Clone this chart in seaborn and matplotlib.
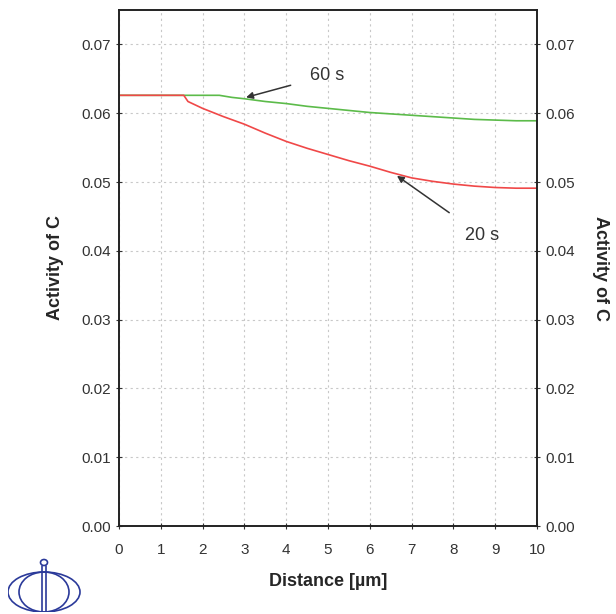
import matplotlib
matplotlib.use("Agg")
import matplotlib.pyplot as plt
import matplotlib.patches as mpatches
import seaborn as sns

# distance [um] and activity of C for each time
dist_20s = [0, 1.55, 1.65, 2, 2.5, 3, 3.5, 4, 4.5, 5, 5.5, 6, 6.5, 7, 7.5,
            8, 8.5, 9, 9.5, 10]
act_20s = [0.0626, 0.0626, 0.0617, 0.0607, 0.0595, 0.0584, 0.0571, 0.0559,
           0.0549, 0.0540, 0.0531, 0.0523, 0.0514, 0.0506, 0.0501, 0.0497,
           0.0494, 0.0492, 0.0491, 0.0491]
dist_60s = [0, 2.4, 2.7, 3, 3.5, 4, 4.5, 5, 5.5, 6, 6.5, 7, 7.5, 8, 8.5, 9,
            9.5, 10]
act_60s = [0.0626, 0.0626, 0.0623, 0.0621, 0.0617, 0.0614, 0.0610, 0.0607,
           0.0604, 0.0601, 0.0599, 0.0597, 0.0595, 0.0593, 0.0591, 0.0590,
           0.0589, 0.0589]

x_ticks = list(range(0, 11))
y_ticks = [0.00, 0.01, 0.02, 0.03, 0.04, 0.05, 0.06, 0.07]

sns.set_style("ticks")
plt.rcParams['font.family'] = ['Liberation Sans', 'DejaVu Sans']

fig = plt.figure(figsize=(6.16, 6.14), dpi=100)
ax = fig.add_axes([119/616, 1-526/614, (537-119)/616, (526-10)/614])

sns.lineplot(x=dist_60s, y=act_60s, ax=ax, color="#5cbb4a", lw=1.2, sort=False)
sns.lineplot(x=dist_20s, y=act_20s, ax=ax, color="#f04848", lw=1.2, sort=False)

ax.set_xlim(0, 10)
ax.set_ylim(0, 0.075)
ax.set_xticks(x_ticks)
ax.set_yticks(y_ticks)
ax.set_yticklabels([f"{v:.2f}" for v in y_ticks])
ax.grid(True, ls=(0, (2, 3)), color="#c8c8c8", lw=0.8)
ax.tick_params(labelsize=11, direction="inout", length=5, color="#333333",
               labelcolor="#333333")
ax.tick_params(axis="x", pad=10)
for s in ax.spines.values():
    s.set_color("#222222")
    s.set_linewidth(1.2)

ax.set_xlabel("Distance [µm]", fontsize=13, fontweight="bold", labelpad=11.5)
ax.set_ylabel("Activity of C", fontsize=13, fontweight="bold", labelpad=12.4)

ax2 = ax.twinx()
ax2.set_ylim(0, 0.075)
ax2.set_yticks(y_ticks)
ax2.set_yticklabels([f"{v:.2f}" for v in y_ticks])
ax2.tick_params(labelsize=11, direction="inout", length=5, color="#333333",
                labelcolor="#333333")
ax2.set_ylabel("Activity of C", fontsize=13, fontweight="bold", rotation=270,
               labelpad=24.5)
for s in ax2.spines.values():
    s.set_color("#222222")
    s.set_linewidth(1.2)

arrow = dict(arrowstyle="-|>", color="#333333", lw=1.1, mutation_scale=10)
ax.annotate("60 s", xy=(3.04, 0.0623), xytext=(4.98, 0.0655), fontsize=13,
            ha="center", va="center", color="#333333",
            arrowprops=dict(arrow, shrinkA=12, shrinkB=0))
ax.annotate("20 s", xy=(6.65, 0.0509), xytext=(8.68, 0.0422), fontsize=13,
            ha="center", va="center", color="#333333",
            arrowprops=dict(arrow, shrinkA=14, shrinkB=0))

# logo
lax = fig.add_axes([8/616, 1-612/614, 74/616, 56/614])
lax.set_xlim(0, 74)
lax.set_ylim(0, 56)
lax.axis("off")
c = "#2b3a9a"
lax.add_patch(mpatches.Ellipse((36, 20), 72, 40, fill=False, ec=c, lw=1.2))
lax.add_patch(mpatches.Ellipse((36, 20), 50, 40, fill=False, ec=c, lw=1.2))
lax.plot([34, 34], [0, 46], color=c, lw=1.2)
lax.plot([38, 38], [0, 46], color=c, lw=1.2)
lax.add_patch(mpatches.Ellipse((36, 49.5), 7, 6, fill=False, ec=c, lw=1.2))

fig.savefig("out.png", dpi=100)
